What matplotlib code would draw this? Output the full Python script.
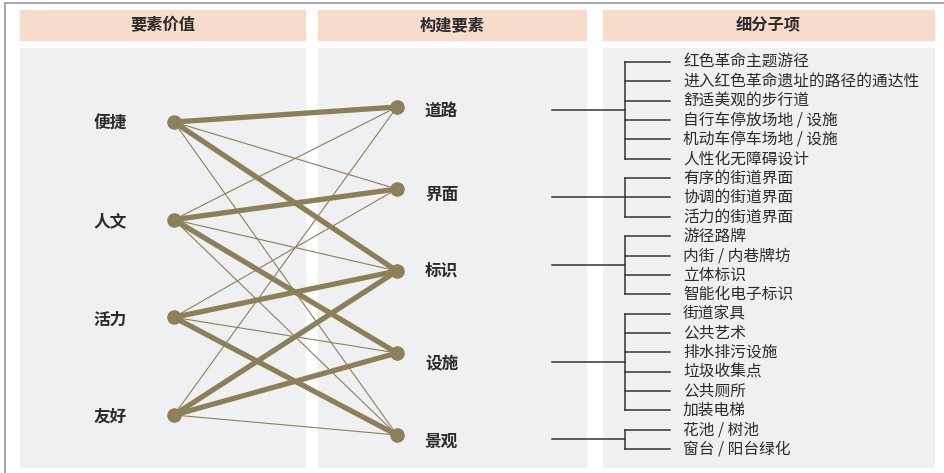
# Value - element - sub-item relation diagram

import numpy as np
import matplotlib
matplotlib.use("Agg")
from matplotlib import pyplot as plt
from matplotlib.patches import Rectangle

plt.rcParams['font.family'] = ['Noto Sans CJK SC', 'DejaVu Sans']

# Data
headers = ["要素价值", "构建要素", "细分子项"]
values = ["便捷", "人文", "活力", "友好"]
elements = ["道路", "界面", "标识", "设施", "景观"]
# link strength value -> element: 0 none, 1 weak, 2 strong
links = [
    [2, 1, 2, 0, 1],   # 便捷
    [1, 2, 1, 2, 1],   # 人文
    [0, 1, 2, 1, 2],   # 活力
    [1, 0, 2, 2, 1],   # 友好
]
sub_items = [
    ["红色革命主题游径", "进入红色革命遗址的路径的通达性", "舒适美观的步行道",
     "自行车停放场地 / 设施", "机动车停车场地 / 设施", "人性化无障碍设计"],
    ["有序的街道界面", "协调的街道界面", "活力的街道界面"],
    ["游径路牌", "内街 / 内巷牌坊", "立体标识", "智能化电子标识"],
    ["街道家具", "公共艺术", "排水排污设施", "垃圾收集点", "公共厕所", "加装电梯"],
    ["花池 / 树池", "窗台 / 阳台绿化"],
]

# Figure in pixel coordinates
W, H = 945, 473
fig = plt.figure(figsize=(W / 100, H / 100), dpi=100)
ax = fig.add_axes([0, 0, 1, 1])
ax.set_xlim(0, W)
ax.set_ylim(H, 0)
ax.axis('off')

head_c, body_c, line_c, text_c = '#f8dccb', '#eff0f2', '#8c8059', '#2b2b2b'

# outer frame (left and top edges)
ax.plot([5, 5], [3, H], color='#9a9a9a', lw=1.2)
ax.plot([5, W], [3, 3], color='#9a9a9a', lw=1.2)

# panels
cols = [(20, 305), (318, 586), (603, 934)]
for (x0, x1), h in zip(cols, headers):
    ax.add_patch(Rectangle((x0, 10), x1 - x0, 30, color=head_c, zorder=1))
    ax.add_patch(Rectangle((x0, 48), x1 - x0, 419, color=body_c, zorder=1))
    ax.text((x0 + x1) / 2, 25, h, ha='center', va='center', fontsize=11.7,
            fontweight='bold', color=text_c, zorder=5)

# node positions
lx, rx = 174, 397
ly = np.linspace(122, 415, len(values))
ry = np.linspace(107, 435, len(elements))
label_y = [111, 195, 270, 363, 442]   # element labels sit a bit off the nodes

for i, row in enumerate(links):
    for j, w in enumerate(row):
        if w == 0:
            continue
        ax.plot([lx, rx], [ly[i], ry[j]], color=line_c,
                lw=3.8 if w == 2 else 0.8, solid_capstyle='round', zorder=3)

ax.scatter([lx] * len(values), ly, s=110, color=line_c, zorder=4, lw=0)
ax.scatter([rx] * len(elements), ry, s=110, color=line_c, zorder=4, lw=0)

for name, y in zip(values, ly):
    ax.text(110, y + 2, name, ha='center', va='center', fontsize=12,
            fontweight='bold', color=text_c, zorder=5)
for name, y in zip(elements, label_y):
    ax.text(425, y, name, ha='left', va='center', fontsize=12,
            fontweight='bold', color=text_c, zorder=5)

# sub-item brackets
step = 19.35
k = 0
for items in sub_items:
    ys = [62 + step * (k + n) for n in range(len(items))]
    k += len(items)
    mid = (ys[0] + ys[-1]) / 2
    ax.plot([552, 625], [mid, mid], color='#333333', lw=1.1, zorder=3)
    ax.plot([625, 625], [ys[0], ys[-1]], color='#333333', lw=1.1, zorder=3)
    for y, t in zip(ys, items):
        ax.plot([625, 670], [y, y], color='#333333', lw=1.1, zorder=3)
        ax.text(683, y, t, ha='left', va='center', fontsize=11.3,
                color=text_c, zorder=5)

fig.savefig("out.png", dpi=100)
